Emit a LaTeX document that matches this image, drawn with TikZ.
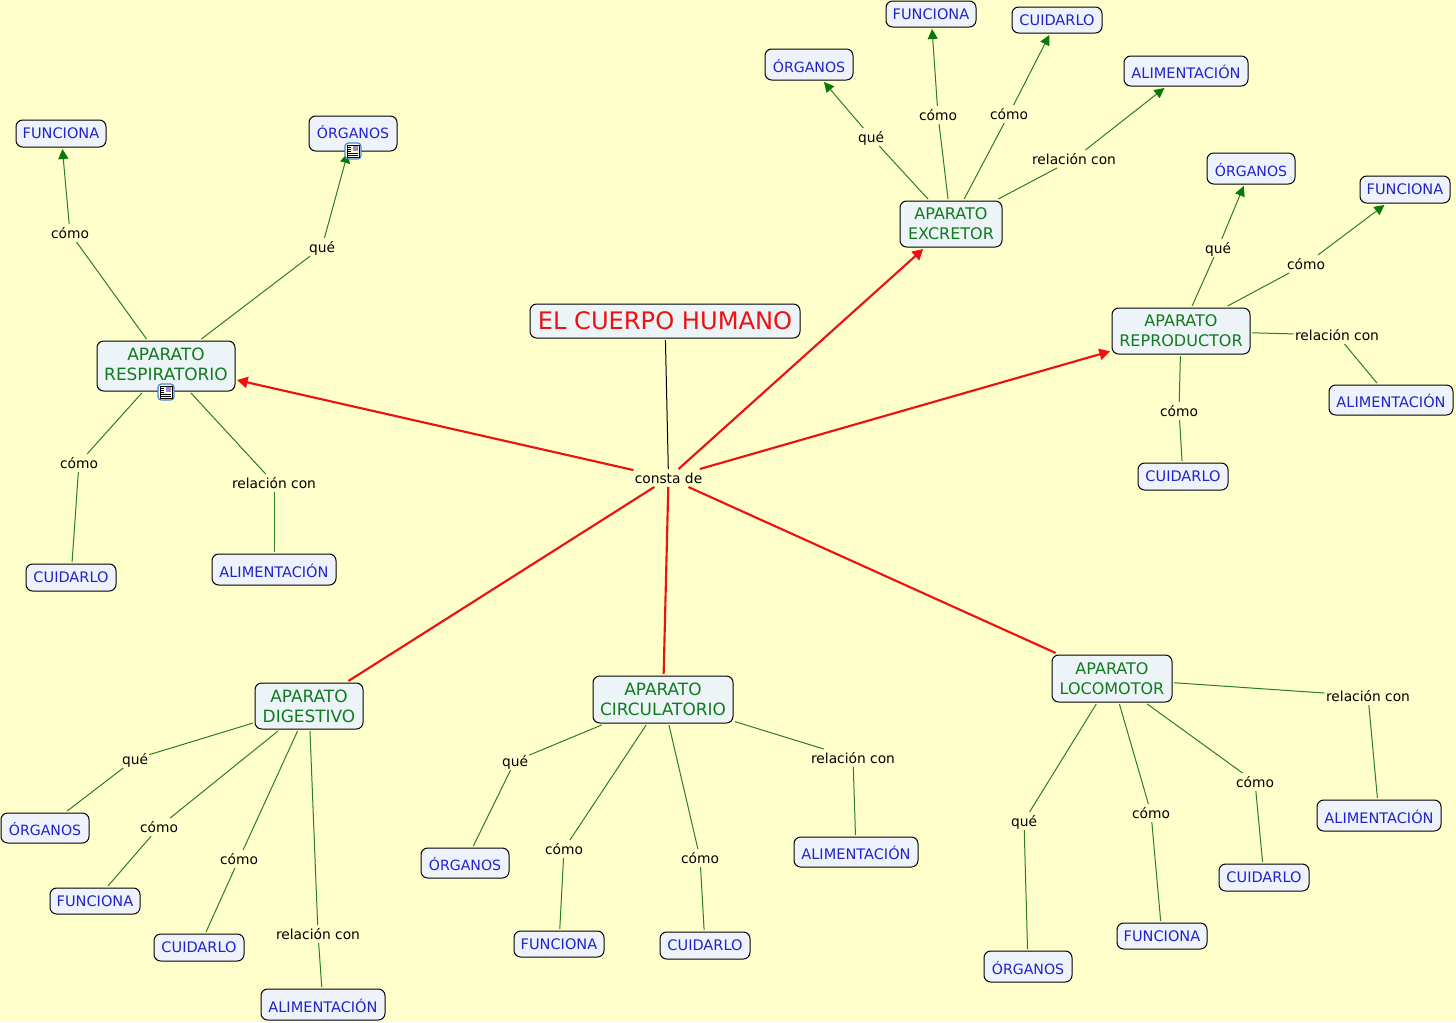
\documentclass[tikz,border=0pt]{standalone}
\usepackage{fontspec}
\setmainfont{DejaVu Sans}
\usetikzlibrary{arrows.meta}
\definecolor{bgc}{HTML}{FFFFCC}
\definecolor{boxc}{HTML}{EDF4F8}
\definecolor{leafc}{HTML}{EEF3FB}
\definecolor{bluet}{HTML}{2222CC}
\definecolor{greent}{HTML}{117A1E}
\definecolor{linkg}{HTML}{2A7F1E}
\definecolor{tipg}{HTML}{087808}
\definecolor{redl}{HTML}{EE1111}
\definecolor{iconb}{HTML}{4A86C8}
\tikzset{
  x=0.75pt,y=-0.75pt,
  base/.style={draw=black,line width=0.75pt,rounded corners=5pt,inner sep=0pt,outer sep=1.5pt,align=center},
  title/.style={base,fill=boxc,text=redl,font=\fontsize{18.1}{20}\selectfont,minimum width=202.5pt,minimum height=25.5pt},
  concept/.style 2 args={base,fill=boxc,text=greent,font=\fontsize{12}{14.8}\selectfont,minimum width=#1*0.75pt,minimum height=#2*0.75pt},
  wide/.style={font=\fontsize{12.7}{14.8}\selectfont},
  leaf/.style 2 args={base,fill=leafc,text=bluet,font=\fontsize{10.9}{12}\selectfont,minimum width=#1*0.75pt,minimum height=#2*0.75pt},
  low/.style={text height=11.6pt,text depth=0pt},
  organf/.style={font=\fontsize{10.6}{12}\selectfont},
  link/.style={font=\fontsize{10.35}{12}\selectfont,text=black,inner sep=0pt,outer sep=0pt,minimum height=13.5pt,inner xsep=1pt,align=center,text height=8pt,text depth=0pt},
  gl/.style={draw=linkg,line width=0.75pt},
  ga/.style={gl,-{Triangle[length=7.5pt,width=7.5pt,color=tipg]}},
  rl/.style={draw=redl,line width=1.6pt},
  ra/.style={rl,-{Triangle[length=8pt,width=8.5pt]}},
}
\newcommand{\docicon}[1]{%
  \begin{scope}[shift={#1}]
    \draw[draw=iconb,fill=white,line width=0.9pt,rounded corners=2.5pt] (-8,-8) rectangle (8,8);
    \draw[draw=black,fill=bgc!60!white,line width=0.45pt] (-6,-6) rectangle (6,6.5);
    \fill[blue!45!white] (0,-5) rectangle (5,0);
    \fill[orange] (2.5,-4.5) rectangle (4.5,-2.5);
    \draw[black,line width=0.45pt] (-5,-4) -- (-2,-4) (-5,-2) -- (-2,-2) (-5,0) -- (-2,0) (-5,2) -- (5,2) (-5,4) -- (5,4);
  \end{scope}}
\begin{document}
\begin{tikzpicture}
\path[use as bounding box,fill=bgc] (0,0) rectangle (1456,1022);
% central
\node[title] (T) at (665,321) {EL CUERPO HUMANO};
\node[link] (C) at (668.5,478) {consta de};
% respiratorio
\node[concept={138}{50}] (Rb) at (166,366) {};
\node[concept={138}{50},wide,draw=none,fill=none,rounded corners=0pt] (R) at (166,364) {APARATO\\RESPIRATORIO};
\node[leaf={90}{27}] (Rf) at (61,133.5) {FUNCIONA};
\node[leaf={88}{35},organf,text height=10pt,text depth=3pt] (Ro) at (353,133.5) {ÓRGANOS};
\node[leaf={90}{27}] (Rc) at (71,577.5) {CUIDARLO};
\node[leaf={124}{31},low] (Ra) at (274,569.5) {ALIMENTACIÓN};
\node[link] (Rl1) at (70,233) {cómo};
\node[link] (Rl2) at (322,247) {qué};
\node[link] (Rl3) at (79,463) {cómo};
\node[link] (Rl4) at (274,483) {relación con};
% excretor
\node[concept={102}{46}] (E) at (951,224) {APARATO\\EXCRETOR};
\node[leaf={88}{31},organf,low] (Eo) at (809,64.5) {ÓRGANOS};
\node[leaf={90}{26}] (Ef) at (931,14) {FUNCIONA};
\node[leaf={90}{26}] (Ec) at (1057,20) {CUIDARLO};
\node[leaf={124}{30},low] (Ea) at (1186,71) {ALIMENTACIÓN};
\node[link] (El1) at (871,137) {qué};
\node[link] (El2) at (938,115) {cómo};
\node[link] (El3) at (1009,114) {cómo};
\node[link] (El4) at (1074,159) {relación con};
% reproductor
\node[concept={138}{46}] (P) at (1181,331) {APARATO\\REPRODUCTOR};
\node[leaf={88}{31},organf,low] (Po) at (1251,168.5) {ÓRGANOS};
\node[leaf={90}{27}] (Pf) at (1405,189.5) {FUNCIONA};
\node[leaf={124}{30},low] (Pa) at (1391,400) {ALIMENTACIÓN};
\node[leaf={90}{27}] (Pc) at (1183,476.5) {CUIDARLO};
\node[link] (Pl1) at (1218,248) {qué};
\node[link] (Pl2) at (1306,264) {cómo};
\node[link] (Pl3) at (1337,335) {relación con};
\node[link] (Pl4) at (1179,411) {cómo};
% locomotor
\node[concept={120}{47}] (L) at (1112,678.5) {APARATO\\LOCOMOTOR};
\node[leaf={124}{31},low] (La) at (1379,815.5) {ALIMENTACIÓN};
\node[leaf={90}{27}] (Lc) at (1264,877.5) {CUIDARLO};
\node[leaf={90}{26}] (Lf) at (1162,936) {FUNCIONA};
\node[leaf={88}{31},organf,low] (Lo) at (1028,966.5) {ÓRGANOS};
\node[link] (Ll1) at (1368,696) {relación con};
\node[link] (Ll2) at (1255,782) {cómo};
\node[link] (Ll3) at (1151,813) {cómo};
\node[link] (Ll4) at (1024,821) {qué};
% circulatorio
\node[concept={140}{47},wide] (K) at (663,699.5) {APARATO\\CIRCULATORIO};
\node[leaf={88}{30},organf,low] (Ko) at (465,863) {ÓRGANOS};
\node[leaf={90}{26}] (Kf) at (559,944) {FUNCIONA};
\node[leaf={90}{27}] (Kc) at (705,945.5) {CUIDARLO};
\node[leaf={124}{30},low] (Ka) at (856,852) {ALIMENTACIÓN};
\node[link] (Kl1) at (515,761) {qué};
\node[link] (Kl2) at (564,849) {cómo};
\node[link] (Kl3) at (700,858) {cómo};
\node[link] (Kl4) at (853,758) {relación con};
% digestivo
\node[concept={108}{46},wide] (D) at (309,706) {APARATO\\DIGESTIVO};
\node[leaf={88}{30},organf,low] (Do) at (45,828) {ÓRGANOS};
\node[leaf={90}{26}] (Df) at (95,901) {FUNCIONA};
\node[leaf={90}{27}] (Dc) at (199,947.5) {CUIDARLO};
\node[leaf={124}{31},low] (Da) at (323,1004.5) {ALIMENTACIÓN};
\node[link] (Dl1) at (135,759) {qué};
\node[link] (Dl2) at (159,827) {cómo};
\node[link] (Dl3) at (239,859) {cómo};
\node[link] (Dl4) at (318,934) {relación con};
% central connectors
\draw[draw=black,line width=0.75pt] (T) -- (C);
\draw[ra] (C) -- (R);
\draw[ra] (C) -- (E);
\draw[ra] (C) -- (P);
\draw[rl] (C) -- (D);
\draw[rl] (C) -- (K);
\draw[rl] (C) -- (L);
% respiratorio connectors
\draw[gl] (Rb) -- (Rl1); \draw[ga] (Rl1) -- (Rf);
\draw[gl] (Rb) -- (Rl2); \draw[ga] (Rl2) -- (Ro);
\draw[gl] (Rb) -- (Rl3); \draw[gl] (Rl3) -- (Rc);
\draw[gl] (Rb) -- (Rl4); \draw[gl] (Rl4) -- (Ra);
% excretor connectors
\draw[gl] (E) -- (El1); \draw[ga] (El1) -- (Eo);
\draw[gl] (E) -- (El2); \draw[ga] (El2) -- (Ef);
\draw[gl] (E) -- (El3); \draw[ga] (El3) -- (Ec);
\draw[gl] (E) -- (El4); \draw[ga] (El4) -- (Ea);
% reproductor connectors
\draw[gl] (P) -- (Pl1); \draw[ga] (Pl1) -- (Po);
\draw[gl] (P) -- (Pl2); \draw[ga] (Pl2) -- (Pf);
\draw[gl] (P) -- (Pl3); \draw[gl] (Pl3) -- (Pa);
\draw[gl] (P) -- (Pl4); \draw[gl] (Pl4) -- (Pc);
% locomotor connectors
\draw[gl] (L) -- (Ll1); \draw[gl] (Ll1) -- (La);
\draw[gl] (L) -- (Ll2); \draw[gl] (Ll2) -- (Lc);
\draw[gl] (L) -- (Ll3); \draw[gl] (Ll3) -- (Lf);
\draw[gl] (L) -- (Ll4); \draw[gl] (Ll4) -- (Lo);
% circulatorio connectors
\draw[gl] (K) -- (Kl1); \draw[gl] (Kl1) -- (Ko);
\draw[gl] (K) -- (Kl2); \draw[gl] (Kl2) -- (Kf);
\draw[gl] (K) -- (Kl3); \draw[gl] (Kl3) -- (Kc);
\draw[gl] (K) -- (Kl4); \draw[gl] (Kl4) -- (Ka);
% digestivo connectors
\draw[gl] (D) -- (Dl1); \draw[gl] (Dl1) -- (Do);
\draw[gl] (D) -- (Dl2); \draw[gl] (Dl2) -- (Df);
\draw[gl] (D) -- (Dl3); \draw[gl] (Dl3) -- (Dc);
\draw[gl] (D) -- (Dl4); \draw[gl] (Dl4) -- (Da);
% resource icons
\docicon{(353,151)}
\docicon{(166,392)}
\end{tikzpicture}
\end{document}
